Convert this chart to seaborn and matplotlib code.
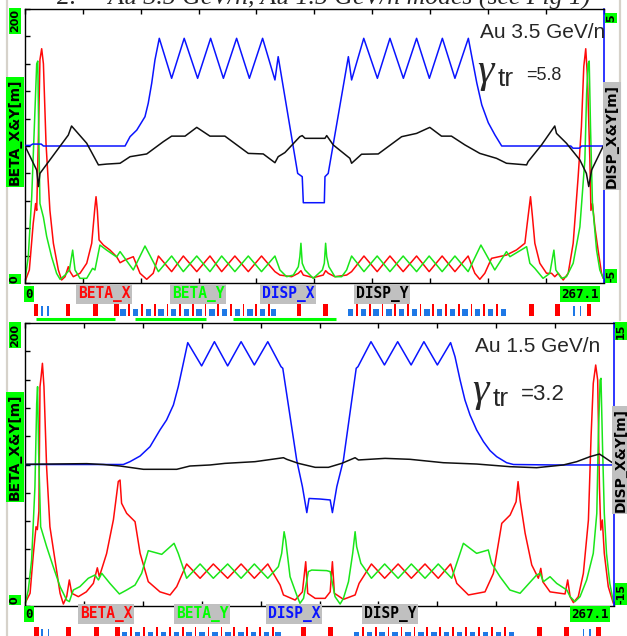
import numpy as np
import pandas as pd
import matplotlib
matplotlib.use("Agg")
import matplotlib.pyplot as plt
from matplotlib.lines import Line2D
import seaborn as sns

sns.set_theme(style="white")
plt.rcParams['font.family'] = ['DejaVu Sans']

# ---------------- data (s [m], value) ----------------
S_MAX = 267.1

# Au 3.5 GeV/n (top)
bx_a = [(0,1),(2.0,9.5),(3.8,43.6),(4.9,58),(5.4,53),(6.2,107),(6.9,163),(7.7,171),(8.5,160),(9.7,102),(11.5,53),(13.1,29),(15.4,9.5),(16.9,2.2),(18.5,4.6),(20.0,11.9),(20.8,8.3),(22.3,4.6),(25.4,7.1),(28.5,14.4),(30.8,29),(32.3,55.7),(32.8,63),(33.4,53),(34.2,31.4),(36.2,27.7),(39.2,24.1),(42.3,19.2),(43.9,14.8),(46.2,16.8),(50.0,19.2),(53.1,7.1),(56.2,2.7),(59.2,7.1),(61.6,19.7),(67.7,8.3),(73.1,19.7),(79.3,8.3),(85.4,19.7),(90.8,8.3),(96.9,19.7),(103.1,8.3),(109.2,19.7),(115.4,8.3),(117.7,5.8),(123.1,4.6),(126.2,7.1),(127.4,9.0),(128.5,5.8),(133.1,3.9),(137.7,5.8),(138.8,9.0),(140.0,7.1),(143.1,4.6),(148.5,5.8),(150.8,8.3),(156.5,19.7),(162.6,8.3),(168.5,19.7),(174.6,8.3),(180.8,19.7),(186.6,8.3),(192.6,19.7),(198.5,8.3),(204.6,19.7),(207.7,7.1),(210.0,2.7),(212.3,7.1),(215.4,18),(222.3,20.4),(223.9,21.7),(226.9,24.1),(230.8,29),(231.9,43.6),(233.4,63),(234.3,48.4),(235.4,29),(237.7,14.4),(240.8,7.1),(243.1,7.1),(244.6,4.6),(246.2,7.1),(248.5,2.2),(250.8,7.1),(253.1,29),(255.4,77.6),(256.9,114),(258.0,158),(258.9,171),(259.7,150),(260.8,90),(261.3,53),(262.0,58),(263.1,41),(264.6,24),(266.2,7),(267.0,3.4)]
by_a = [(0,2.2),(1.5,19),(3.1,63),(4.6,126),(5.4,160),(5.9,162),(6.3,114),(6.9,58),(8.5,48),(10.0,34),(12.3,19),(14.6,7),(16.2,2.7),(18.5,5.8),(20.5,9.5),(22.0,24),(23.1,9.5),(25.4,3.4),(28.5,3.4),(31.2,10.7),(32.3,9.5),(34.6,27.7),(37.7,24),(42.3,19),(43.9,22.9),(50.0,9.5),(55.4,27),(61.6,8.3),(67.7,19.7),(73.1,8.3),(79.3,19.7),(85.4,8.3),(90.8,19.7),(96.9,8.3),(103.1,19.7),(109.2,8.3),(115.4,19.7),(117.7,9.5),(120.8,4.6),(123.9,5.8),(126.2,11.9),(126.9,19.2),(127.4,29),(128.0,14.4),(129.3,9.5),(133.1,3.4),(137.3,9.5),(138.2,14.4),(138.8,29),(139.3,19.2),(140.3,11.9),(143.1,4.6),(146.2,4.6),(148.5,9.5),(150.8,19.7),(156.5,8.3),(162.6,19.7),(168.5,8.3),(174.6,19.7),(180.8,8.3),(186.6,19.7),(192.6,8.3),(198.5,19.7),(204.6,8.3),(210.5,27.7),(216.9,9.5),(222.3,22.9),(223.9,19.2),(231.6,26.5),(233.1,14.4),(235.4,10.7),(239.2,3.4),(242.3,7),(244.2,24),(245.1,9.5),(247.7,3.4),(250.0,4.6),(253.1,14.4),(256.2,41),(258.5,90),(259.3,138),(260.0,160),(260.5,162),(261.1,114),(262.0,58),(263.9,24),(265.4,9.5),(267.0,3.4)]
dx_a = [(0,0.02),(2.5,0.02),(3.5,0.07),(7.5,0.07),(8.5,0.0),(46.2,0),(48.5,0.34),(51.6,0.58),(55.4,1.07),(56.9,1.56),(58.5,2.29),(60.0,3.14),(62.0,3.93),(67.7,2.47),(73.5,3.93),(79.7,2.47),(85.7,3.93),(91.6,2.47),(97.7,3.93),(103.6,2.47),(109.7,3.93),(115.4,2.41),(116.9,3.26),(125.9,-1.0),(128.0,-1.12),(128.5,-2.07),(138.2,-2.07),(138.5,-1.12),(140.0,-1.0),(149.3,3.26),(150.8,2.41),(156.4,3.93),(162.7,2.47),(168.5,3.93),(174.7,2.47),(180.8,3.93),(186.7,2.47),(192.7,3.93),(198.5,2.47),(204.7,3.93),(206.2,3.3),(208.6,2.3),(210.9,1.5),(213.9,0.85),(217.0,0.4),(220.1,0.0),(252,0.0),(253,-0.08),(256,-0.08),(257,0),(267.1,0)]
dy_a = [(0,0),(5.4,-0.88),(6.2,-1.48),(6.9,-1.0),(20.0,0.40),(21.5,0.73),(28.5,0.10),(33.9,-0.69),(37.7,-0.66),(43.9,-0.63),(48.5,-0.39),(56.2,-0.29),(63.9,0.16),(67.7,0.36),(73.9,0.36),(79.3,0.68),(85.4,0.36),(92.3,0.36),(103.1,-0.27),(110.0,-0.29),(115.4,-0.61),(116.9,-0.39),(120.0,-0.24),(126.9,0.34),(128.0,0.38),(129.3,0.28),(138.5,0.28),(139.3,0.38),(142.3,0.04),(150.0,-0.45),(150.8,-0.63),(155.4,-0.30),(163.1,-0.29),(173.9,0.34),(180.8,0.46),(186.9,0.68),(192.3,0.36),(196.9,0.36),(203.1,0.04),(210.0,-0.27),(217.7,-0.45),(222.3,-0.63),(231.6,-0.69),(232.3,-0.57),(238.5,0.04),(244.6,0.73),(245.4,0.46),(250.0,0.10),(256.2,-0.51),(259.2,-1.0),(260.3,-1.48),(261.6,-0.88),(267.0,0)]

# Au 1.5 GeV/n (bottom)
bx_b = [(0,1.9),(2.3,9),(3.8,37),(5.0,56),(5.6,54),(6.3,67),(6.8,155),(7.3,162),(7.9,171.5),(8.6,155),(9.8,98),(11.3,56),(13.6,32.5),(15.9,9),(17.4,1.4),(18.9,6.6),(20.1,18.4),(21.2,9),(24.2,6.6),(27.8,10),(31.0,16),(32.8,27),(33.7,20.7),(37.0,37),(40.1,61),(42.3,88),(43.1,89),(43.8,72.6),(46.1,65.5),(49.9,59.6),(52.2,37.2),(55.9,17.2),(61.2,10),(65.8,7.8),(68.8,13.7),(73.3,29.7),(79.4,19.6),(85.4,29.7),(91.9,19.6),(98.0,29.7),(104.0,19.6),(110.1,29.7),(115.7,14.8),(117.2,7.8),(122.5,4.2),(125.8,10),(127.3,31.3),(128.2,9),(131.6,5.4),(136.1,5.4),(138.4,10),(139.4,31.3),(140.3,9),(144.4,4.7),(149.7,7.8),(151.5,16),(157.1,29.7),(163.1,19.6),(169.2,29.7),(175.2,19.6),(181.4,29.7),(187.4,19.6),(193.0,29.7),(195.8,16),(201.1,7.8),(208.6,10),(212.4,23),(216.2,58.4),(220.0,64.3),(222.7,73.7),(223.6,87.9),(224.5,74.9),(226.8,51.4),(229.8,29),(232.8,19.6),(233.9,26.6),(234.8,17.2),(238.1,10),(244.9,8.5),(246.1,18.4),(247.2,6.6),(248.7,2.4),(250.9,6.6),(253.2,23),(255.5,60.8),(256.7,119.7),(257.7,157.4),(258.8,170.3),(259.7,159.7),(260.5,84.3),(261.1,53.7),(261.8,60.8),(262.7,37.2),(264.5,13.7),(266.8,1.9)]
by_b = [(0,0.7),(1.5,11.3),(3.0,32.5),(4.5,84),(5.3,143),(5.7,155),(6.2,108),(7.1,56),(9.8,42),(12.8,27.8),(15.9,13.7),(18.9,4.2),(20.1,3.1),(21.9,11.3),(24.9,13.7),(28.7,19.6),(31.7,21.9),(33.3,18.4),(34.8,23.1),(38.5,16),(42.8,8.5),(46.1,11.3),(49.9,14.8),(52.9,23.1),(55.9,39.1),(62.0,36.5),(67.6,44.3),(69.5,37.2),(73.3,19.6),(79.4,29.7),(85.4,19.6),(91.9,29.7),(98.0,19.6),(104.0,29.7),(110.1,19.6),(114.9,27.8),(116.4,37.2),(117.5,52.5),(118.2,46.6),(120.2,20.7),(123.2,7.8),(124.7,1.9),(126.3,5.4),(128.5,24.3),(130.0,25.4),(136.8,25),(138.4,24.3),(140.6,6.6),(142.9,1.4),(144.4,5.4),(146.7,17.2),(148.6,37.2),(149.7,52.5),(150.4,41.9),(152.3,30.2),(157.1,19.6),(163.1,29.7),(169.2,19.6),(175.2,29.7),(181.4,19.6),(187.4,29.7),(193.5,19.6),(198.8,44.3),(204.8,37.2),(210.1,39.6),(211.6,30.2),(215.4,20.7),(219.9,11.3),(224.5,9),(232.0,21.9),(233.6,23.1),(235.1,17.2),(238.1,20.7),(241.1,16),(245.7,11.3),(247.2,6.6),(249.4,3.1),(251.7,6.6),(254.7,18.4),(257.7,37.2),(259.3,65.5),(260.0,119.7),(260.8,159.7),(261.2,160.9),(261.9,112.6),(262.7,65.5),(263.7,37.2),(265.2,16),(266.8,3.1)]
dx_b = [(0,0),(44.6,0),(47.6,0.3),(52.2,0.9),(56.7,1.89),(61.2,3.66),(64.2,4.72),(67.3,6.31),(69.5,8.25),(71.8,10.73),(73.8,12.92),(80.1,10.45),(85.9,13.02),(91.9,10.45),(98.0,13.02),(104.0,10.55),(110.1,13.02),(116.1,10.37),(116.9,10.2),(123.2,0.48),(125.8,-2.35),(127.8,-5.1),(128.8,-3.6),(133.8,-3.66),(138.4,-3.76),(139.4,-5.1),(141.4,-2.35),(144.4,0.48),(150.2,10.2),(151.0,10.37),(156.9,13.02),(163.0,10.55),(169.0,13.02),(175.1,10.55),(180.9,13.02),(187.0,10.55),(193.0,12.92),(195.0,11.43),(197.3,8.96),(199.5,6.84),(201.8,5.25),(204.8,3.66),(207.9,2.42),(210.9,1.47),(213.9,0.83),(218.4,0.19),(221.5,0),(240,-0.05),(267.1,-0.05)]
dy_b = [(0,0.02),(28.0,0.09),(35.5,0),(43.1,-0.16),(53.7,-0.51),(68.8,-0.51),(74.8,-0.16),(83.9,-0.05),(90.7,0.12),(104.3,0.3),(117.2,0.72),(118.7,0.55),(124.0,0.12),(131.6,-0.3),(137.6,-0.3),(143.6,0.12),(149.7,0.72),(151.2,0.48),(163.3,0.65),(174.6,0.55),(189.7,0.19),(204.8,0.05),(219.9,-0.23),(232.0,-0.34),(244.1,-0.05),(250.2,0.3),(256.2,0.83),(260.5,1.11),(262.3,0.83),(266.8,0.12)]

# lattice strip elements (s centres)
bend_big = [5.0, 19.5, 31.9, 41.4, 124.5, 136.4, 230.0, 241.9, 256.2]
bend_thin = [47.4, 53.2, 58.9, 64.7, 70.5, 76.2, 82.0, 87.8, 93.5, 99.3, 105.0, 110.8,
             150.9, 156.7, 162.4, 168.2, 174.0, 179.7, 185.5, 191.3, 197.0, 202.8, 208.6, 214.3]
quads = [44.5, 50.3, 56.0, 61.8, 67.6, 73.3, 79.1, 84.9, 90.6, 96.4, 102.2, 107.9, 113.0,
         148.0, 153.8, 159.5, 165.3, 171.1, 176.8, 182.6, 188.4, 194.1, 199.9, 205.7, 211.4, 217.2]
quads_thin = [7.7, 10.5, 249.5, 252.3]
green_marks = [(5.0, 40.9), (50.0, 82.3), (94.5, 141.4)]

series_names = ["BETA_X", "BETA_Y", "DISP_X", "DISP_Y"]

# ---------------- styling ----------------
RED = '#ff0a0a'
GRN = '#1ae61a'
BLU = '#0a14ff'
BLK = '#101010'
LIME = '#00ff00'
GRAY = '#c0c0c0'
LW = 1.1

W, H = 627, 636
fig = plt.figure(figsize=(W / 100, H / 100), dpi=100)
fig.patch.set_facecolor('white')

def fx(px):
    return px / W

def fy(py):
    return 1 - py / H

def axes_px(x0, y0, x1, y1):
    return fig.add_axes([fx(x0), fy(y1), fx(x1) - fx(x0), fy(y0) - fy(y1)])

def boxtext(px, py, s, color='black', bg=LIME, size=8, rot=0, family='DejaVu Sans',
            weight='bold', pad=0.12):
    fig.text(fx(px), fy(py), s, color=color, fontsize=size, rotation=rot, family=family,
             weight=weight, ha='center', va='center',
             bbox=dict(boxstyle=f'square,pad={pad}', facecolor=bg, edgecolor='none'))

def line(ax, pairs, color):
    df = pd.DataFrame(pairs, columns=['s', 'v'])
    sns.lineplot(data=df, x='s', y='v', ax=ax, color=color, linewidth=LW,
                 sort=False, estimator=None, legend=False)
    ax.set_xlabel('')
    ax.set_ylabel('')

def panel(box, bx, by, dx, dy, dlim):
    ax = axes_px(*box)
    line(ax, bx, RED)
    line(ax, by, GRN)
    ax.set_xlim(0, S_MAX)
    ax.set_ylim(0, 200)
    ax.set_xticks(np.linspace(0, S_MAX, 11))
    ax.set_yticks(np.arange(0, 201, 20))
    ax.tick_params(direction='in', length=3.5, width=1, colors='black',
                   top=True, bottom=True, left=True, right=True,
                   labelleft=False, labelbottom=False, labelright=False, labeltop=False)
    for sp in ['left', 'top', 'bottom']:
        ax.spines[sp].set_color('black')
        ax.spines[sp].set_linewidth(1.0)
    ax.spines['right'].set_color(BLU)
    ax.spines['right'].set_linewidth(1.2)
    ax.grid(False)
    ax2 = ax.twinx()
    line(ax2, dx, BLU)
    line(ax2, dy, BLK)
    ax2.set_ylim(-dlim, dlim)
    ax2.set_xlim(0, S_MAX)
    ax2.set_yticks([])
    for sp in ax2.spines.values():
        sp.set_visible(False)
    ax2.grid(False)
    return ax

def strip(box, green=True):
    ax = axes_px(*box)
    ax.set_xlim(0, S_MAX)
    ax.set_ylim(0, 1)
    ax.axis('off')
    ax.bar(bend_big, 0.66, width=2.2, bottom=0.28, color='#ff0000', linewidth=0)
    ax.bar(quads, 0.40, width=2.4, bottom=0.28, color='#1e78e6', linewidth=0)
    ax.bar(bend_thin, 0.66, width=0.8, bottom=0.28, color='#ff0000', linewidth=0)
    ax.bar(quads_thin, 0.55, width=0.8, bottom=0.28, color='#1e78e6', linewidth=0)
    if green:
        for a, b in green_marks:
            ax.plot([a, b], [0.09, 0.09], color=LIME, lw=2.2, solid_capstyle='butt')
    return ax

def gamma_tr(x, y_gamma, y_tr, y_val, val, val_size):
    fig.text(fx(x), fy(y_gamma), "γ", fontsize=30, family='Liberation Serif',
             style='italic', ha='left', va='baseline')
    fig.text(fx(x + 21), fy(y_tr), "tr", fontsize=19, family='Liberation Sans',
             ha='left', va='baseline')
    fig.text(fx(x + 49), fy(y_val), val, fontsize=val_size, family='Liberation Sans',
             ha='left', va='baseline')

# window frame lines
fig.add_artist(Line2D([fx(6.5), fx(6.5)], [0, 1], color='#d6d2ca', lw=1.6))
fig.add_artist(Line2D([fx(619.5), fx(619.5)], [fy(320), 1], color='#d6d2ca', lw=1.6))

# title (cut at the top edge, as in the source)
fig.text(fx(57), fy(4.5), "2.     Au 3.5 GeV/n, Au 1.5 GeV/n modes (see Fig 1)",
         ha='left', va='baseline', family='Liberation Serif', style='italic', fontsize=18.5)

# ---------------- top panel ----------------
panel((25, 9, 603.5, 283), bx_a, by_a, dx_a, dy_a, 5)
boxtext(15, 21, "200", rot=90)
boxtext(15, 279, "0", rot=90)
boxtext(15, 132, "BETA_X&Y[m]", rot=90, size=10)
boxtext(611, 18, "5", rot=90)
boxtext(611, 276, "-5", rot=90)
boxtext(612, 136, "DISP_X&Y[m]", bg=GRAY, rot=90, size=10)

fig.text(fx(480.5), fy(38.5), "Au 3.5 GeV/n", fontsize=15, family='Liberation Sans',
         ha='left', va='baseline')
gamma_tr(477, 82, 86, 80, "=5.8", 13)

ROW_A = 294
label_x_a = [104, 198, 288, 382]
label_c = [RED, LIME, BLU, 'black']
boxtext(29, ROW_A, "0", size=9, family='DejaVu Sans Mono')
for x, name, c in zip(label_x_a, series_names, label_c):
    boxtext(x, ROW_A, name, color=c, bg=GRAY, size=10.5, family='DejaVu Sans Mono')
boxtext(580, ROW_A, "267.1", size=9, family='DejaVu Sans Mono')
strip((25, 303, 613, 321), green=True)

# ---------------- bottom panel ----------------
panel((25, 323, 614, 606), bx_b, by_b, dx_b, dy_b, 15)
boxtext(15, 335, "200", rot=90)
boxtext(15, 600, "0", rot=90)
boxtext(15, 447, "BETA_X&Y[m]", rot=90, size=10)
boxtext(621, 331, "15", rot=90)
boxtext(621, 594, "-15", rot=90)
boxtext(621, 460, "DISP_X&Y[m]", bg=GRAY, rot=90, size=10)

fig.text(fx(475), fy(352), "Au 1.5 GeV/n", fontsize=15, family='Liberation Sans',
         ha='left', va='baseline')
gamma_tr(472, 401, 406, 400, "=3.2", 16)

ROW_B = 614
label_x_b = [106, 202, 294, 390]
boxtext(29, ROW_B, "0", size=9, family='DejaVu Sans Mono')
for x, name, c in zip(label_x_b, series_names, label_c):
    boxtext(x, ROW_B, name, color=c, bg=GRAY, size=10.5, family='DejaVu Sans Mono')
boxtext(590, ROW_B, "267.1", size=9, family='DejaVu Sans Mono')
strip((25, 626, 623, 644), green=False)

fig.savefig("out.png", dpi=100, facecolor='white')
